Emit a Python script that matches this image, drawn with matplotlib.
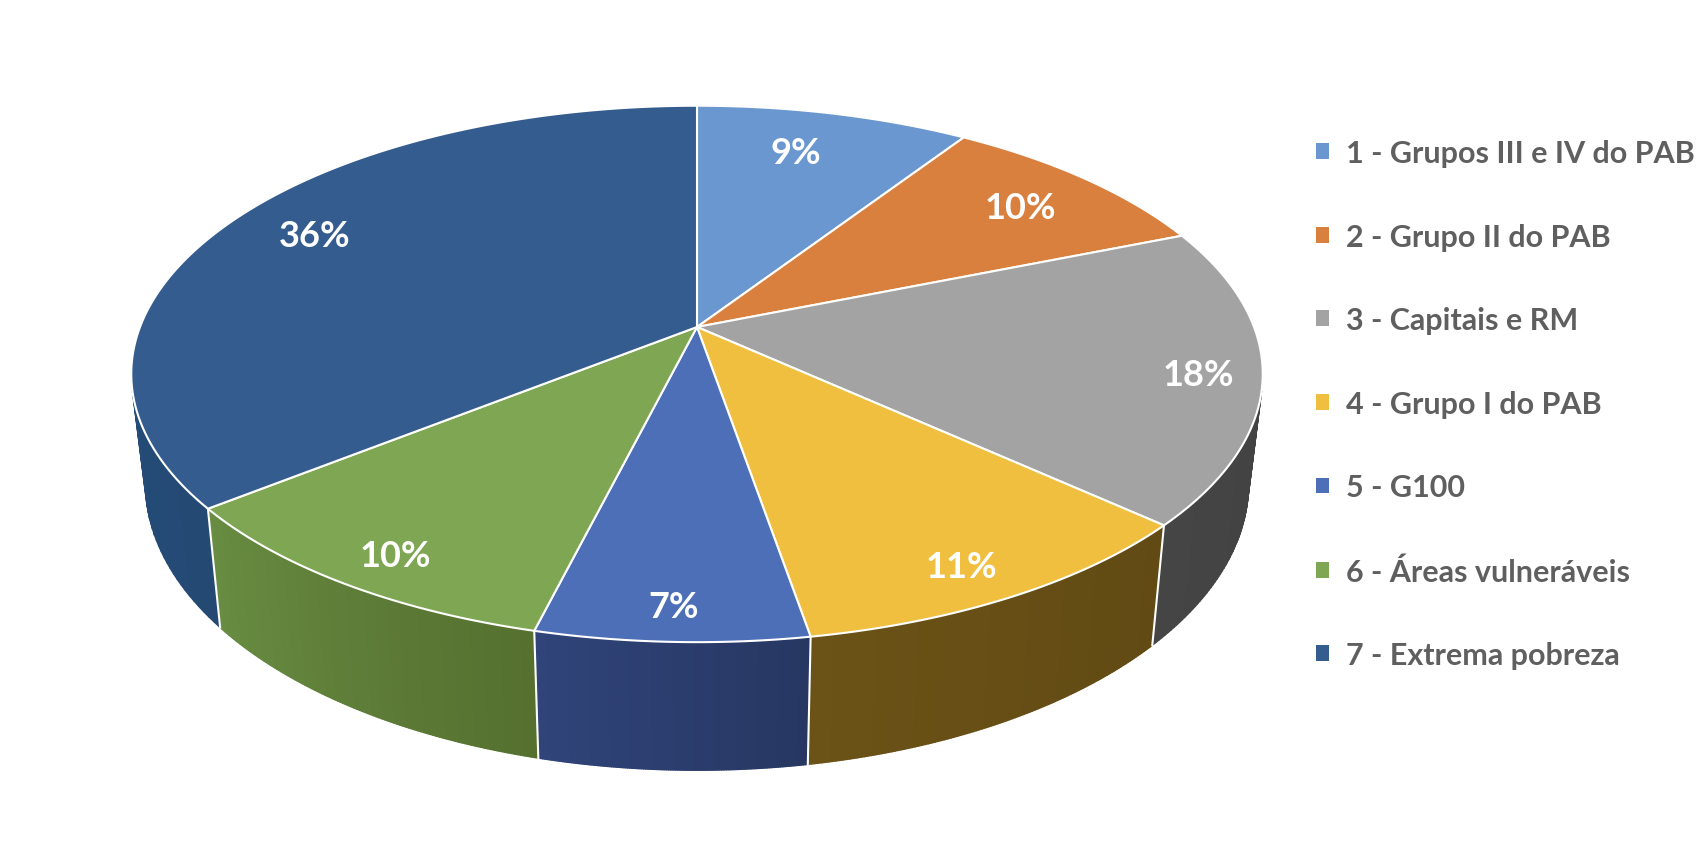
import numpy as np
import matplotlib
matplotlib.use('Agg')
import matplotlib.pyplot as plt
from matplotlib.collections import PolyCollection
from matplotlib.patches import Polygon

categories = ['1 - Grupos III e IV do PAB', '2 - Grupo II do PAB', '3 - Capitais e RM',
              '4 - Grupo I do PAB', '5 - G100', '6 - Áreas vulneráveis', '7 - Extrema pobreza']
# shares estimated from the slice edges, the labels show them rounded
shares = [9.25, 9.65, 17.85, 10.55, 6.6, 10.4, 35.7]
labels = ['9%', '10%', '18%', '11%', '7%', '10%', '36%']

top_colors = ['#6a97cf', '#da803f', '#a3a3a3', '#f0bf3f', '#4c6fb8', '#7ea653', '#355c8e']
side_left = ['#3f5f88', '#8a4f25', '#454545', '#6b5216', '#30447a', '#688c42', '#27507f']
side_right = ['#3f5f88', '#8a4f25', '#3f3f3f', '#614a14', '#273762', '#55702f', '#244a74']
label_radius = [0.80, 0.815, 0.89, 0.885, 0.897, 0.887, 0.83]
label_turn = [-2.0, 0.2, 0.5, 1.1, 0.1, -0.7, 2.3]  # degrees off the slice middle

# perspective of the tilted disc, in pixels
cx, cy = 697, 328
k = 0.175
A, B = 557, 260


def project(theta, r=1.0):
    # theta clockwise from 12 o'clock, returns X right, Y up relative to the apex
    x = r * np.sin(theta)
    y = r * np.cos(theta)
    w = 1 + k * y
    return A * x / w, B * y / w


def top_xy(theta, r=1.0):
    X, Y = project(theta, r)
    return np.column_stack([cx + X, cy - Y])


def bottom_xy(theta):
    X, Y = project(theta)
    return np.column_stack([cx + 0.975 * X, cy - (1.07 * Y - 106)])


plt.rcParams['font.family'] = ['Lato', 'DejaVu Sans']
fig = plt.figure(figsize=(17.08, 8.54), dpi=100)
ax = fig.add_axes([0, 0, 1, 1])
ax.set_xlim(0, 1708)
ax.set_ylim(854, 0)
ax.axis('off')

edges = np.cumsum([0] + shares) / sum(shares) * 2 * np.pi

# rim first, the top faces go over it
for i in range(len(shares)):
    th = np.linspace(edges[i], edges[i + 1], 120)
    p = top_xy(th)
    q = bottom_xy(th)
    d = p[1:] - p[:-1]
    h = q[:-1] - p[:-1]
    front = d[:, 0] * h[:, 1] - d[:, 1] * h[:, 0] < 0
    if not front.any():
        continue
    strips = []
    cols = []
    c0 = np.array(matplotlib.colors.to_rgb(side_left[i]))
    c1 = np.array(matplotlib.colors.to_rgb(side_right[i]))
    # going clockwise along the front means right to left on screen
    for j in np.where(front)[0]:
        strips.append([p[j], p[j + 1], q[j + 1], q[j]])
        t = j / (len(th) - 2)
        cols.append(c1 * (1 - t) + c0 * t)
    ax.add_collection(PolyCollection(strips, facecolors=cols, edgecolors=cols, linewidths=1.0))
    if front[0]:
        ax.plot([p[0, 0], q[0, 0]], [p[0, 1], q[0, 1]], color='white', lw=1.5, zorder=3)

# top faces
for i in range(len(shares)):
    th = np.linspace(edges[i], edges[i + 1], 120)
    pts = np.vstack([[cx, cy], top_xy(th)])
    ax.add_patch(Polygon(pts, closed=True, facecolor=top_colors[i], edgecolor='white',
                         linewidth=1.5, joinstyle='round', zorder=4))

    mid = (edges[i] + edges[i + 1]) / 2 + np.radians(label_turn[i])
    lx, ly = top_xy(np.array([mid]), label_radius[i])[0]
    ax.text(lx, ly + 3, labels[i], color='white', fontsize=26, fontweight='bold',
            ha='center', va='center', zorder=5)

proxies = [plt.Rectangle((0, 0), 1, 1, facecolor=c, edgecolor='none') for c in top_colors]
ax.legend(proxies, categories, loc='upper left', bbox_to_anchor=(1316 / 1708, 1 - 140 / 854),
          frameon=False, labelcolor='#5f5f5f', prop={'weight': 'bold', 'size': 22},
          handlelength=0.42, handleheight=0.42, handletextpad=0.55, labelspacing=1.82,
          borderpad=0, borderaxespad=0)

fig.savefig('out.png', dpi=100, facecolor='white')
